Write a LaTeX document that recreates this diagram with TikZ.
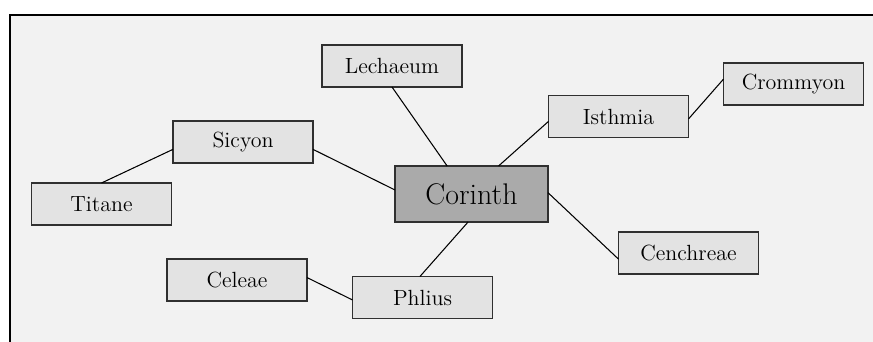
\documentclass[tikz,border=0pt]{standalone}
\usepackage{tikz}
\definecolor{paneBg}{HTML}{F2F2F2}
\definecolor{boxFill}{HTML}{E3E3E3}
\definecolor{hubFill}{HTML}{AAAAAA}
\definecolor{boxLine}{HTML}{303030}
\begin{document}
\begin{tikzpicture}[
    town/.style={draw=boxLine, fill=boxFill, line width=0.75pt, minimum width=2.8cm,
        minimum height=0.84cm, inner sep=0pt, outer sep=0pt,
        font=\fontsize{12.5}{15}\selectfont},
    hub/.style={town, fill=hubFill, minimum width=3.06cm, minimum height=1.12cm,
        font=\fontsize{17}{20}\selectfont},
    road/.style={line width=0.6pt, black}
  ]
    \useasboundingbox (0,0) rectangle (17.46,-6.84);
    \fill[paneBg] (0.2,-0.3) rectangle (17.46,-6.84);
    \draw[line width=1.4pt] (0.2,-6.84) -- (0.2,-0.3) -- (17.46,-0.3);

    % Orte
    \node[hub]  (corinth)   at (9.43,-3.88) {Corinth};
    \node[town] (lechaeum)  at (7.84,-1.32) {Lechaeum};
    \node[town] (crommyon)  at (15.87,-1.68) {Crommyon};
    \node[town] (isthmia)   at (12.37,-2.33) {Isthmia};
    \node[town] (sicyon)    at (4.86,-2.84) {Sicyon};
    \node[town] (titane)    at (2.03,-4.08) {Titane};
    \node[town] (cenchreae) at (13.77,-5.06) {Cenchreae};
    \node[town] (celeae)    at (4.74,-5.60) {Celeae};
    \node[town] (phlius)    at (8.45,-5.95) {Phlius};

    % Verbindungen
    \draw[road] (lechaeum.south) -- (corinth.131);
    \draw[road] (sicyon.-6.5) -- (corinth.177);
    \draw[road] (sicyon.186.5) -- (titane.north);
    \draw[road] (isthmia.184.5) -- (corinth.46.6);
    \draw[road] (isthmia.-2.9) -- (crommyon.176.7);
    \draw[road] (corinth.1.5) -- (cenchreae.185);
    \draw[road] (corinth.263) -- (phlius.97);
    \draw[road] (celeae.2.5) -- (phlius.182);
\end{tikzpicture}
\end{document}
